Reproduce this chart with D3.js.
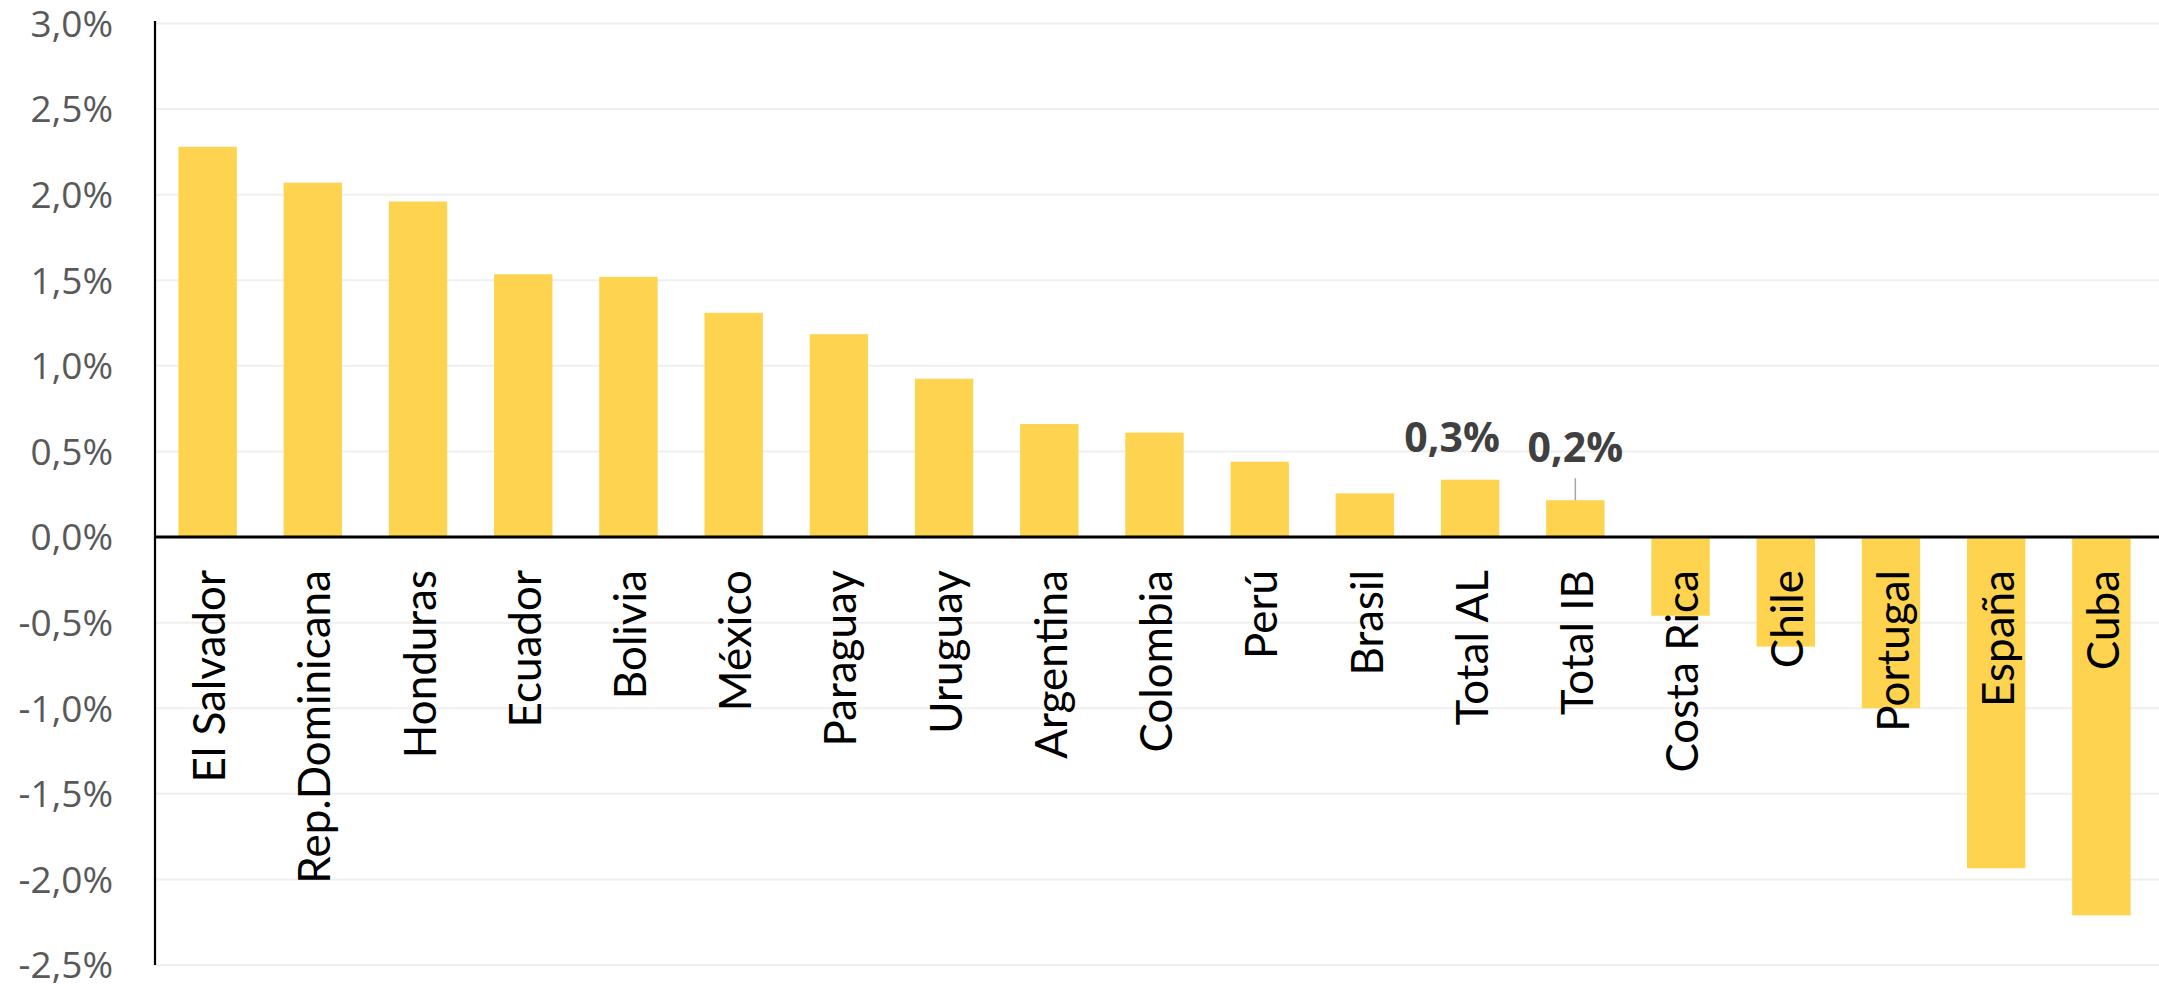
<!DOCTYPE html>
<html>
<head>
<meta charset="utf-8">
<script src="https://cdn.jsdelivr.net/npm/d3@7"></script>
<style>
  html, body { margin: 0; padding: 0; background: #fff; }
  svg { display: block; }
</style>
</head>
<body>
<svg id="chart" width="2159" height="984"></svg>
<script>
const categories = ["El Salvador", "Rep.Dominicana", "Honduras", "Ecuador", "Bolivia", "México", "Paraguay", "Uruguay", "Argentina", "Colombia", "Perú", "Brasil", "Total AL", "Total IB", "Costa Rica", "Chile", "Portugal", "España", "Cuba"];
const values = [2.28, 2.07, 1.96, 1.535, 1.52, 1.31, 1.185, 0.925, 0.66, 0.61, 0.44, 0.255, 0.335, 0.215, -0.46, -0.64, -1.0, -1.935, -2.21];
const yTicks = [3.0, 2.5, 2.0, 1.5, 1.0, 0.5, 0.0, -0.5, -1.0, -1.5, -2.0, -2.5];
const dataLabelCats = ["Total AL", "Total IB"];
const dataLabelTexts = ["0,3%", "0,2%"];

(function () {
const W = 2159, H = 984;
const svg = d3.select("#chart");
const mLeft = 155, mRight = 2154, mTop = 23.5, mBottom = 965;

const x = d3.scaleBand().domain(categories).range([mLeft, mRight]).paddingInner(0.445).paddingOuter(0.2225);
const y = d3.scaleLinear().domain([-2.5, 3.0]).range([mBottom, mTop]);

const fmt = v => v.toFixed(1).replace(".", ",") + "%";

// gridlines
svg.append("g").selectAll("line").data(yTicks).join("line")
  .attr("x1", mLeft).attr("x2", W)
  .attr("y1", d => y(d)).attr("y2", d => y(d))
  .attr("stroke", "#efefef").attr("stroke-width", 2);

// y tick labels
svg.append("g").selectAll("text").data(yTicks).join("text")
  .attr("x", 113).attr("y", d => y(d)).attr("dy", "0.36em")
  .attr("text-anchor", "end")
  .attr("font-family", "'Open Sans', sans-serif").attr("font-size", 37)
  .attr("fill", "#595959")
  .text(fmt);

// bars
svg.append("g").selectAll("rect").data(categories).join("rect")
  .attr("x", d => x(d))
  .attr("width", x.bandwidth())
  .attr("y", (d, i) => y(Math.max(0, values[i])))
  .attr("height", (d, i) => Math.abs(y(values[i]) - y(0)))
  .attr("fill", "#fed34f");

// y axis line
svg.append("line").attr("x1", mLeft).attr("x2", mLeft).attr("y1", 21).attr("y2", mBottom)
  .attr("stroke", "#000").attr("stroke-width", 2.2);

// zero line
svg.append("line").attr("x1", mLeft).attr("x2", W).attr("y1", y(0)).attr("y2", y(0))
  .attr("stroke", "#000").attr("stroke-width", 3);

// category labels
svg.append("g").selectAll("text").data(categories).join("text")
  .attr("transform", d => `translate(${x(d) + x.bandwidth() / 2},${y(0) + 33}) rotate(-90)`)
  .attr("dy", "0.4em")
  .attr("text-anchor", "end")
  .attr("font-family", "Lato, sans-serif").attr("font-size", 44)
  .attr("fill", "#000")
  .text(d => d);

// data labels
const labelOffsets = [{dx: -18, dy: 28, leader: false}, {dx: 0, dy: 38, leader: true}];
dataLabelCats.forEach((c, k) => {
  const i = categories.indexOf(c);
  const cx = x(c) + x.bandwidth() / 2;
  const by = y(values[i]);
  const o = labelOffsets[k];
  if (o.leader) {
    svg.append("line").attr("x1", cx).attr("x2", cx).attr("y1", by - 22).attr("y2", by)
      .attr("stroke", "#a6a6a6").attr("stroke-width", 1.5);
  }
  svg.append("text")
    .attr("x", cx + o.dx).attr("y", by - o.dy)
    .attr("text-anchor", "middle")
    .attr("font-family", "'Open Sans', sans-serif").attr("font-weight", 700).attr("font-size", 41)
    .attr("fill", "#404040")
    .text(dataLabelTexts[k]);
});
})();
</script>
</body>
</html>
